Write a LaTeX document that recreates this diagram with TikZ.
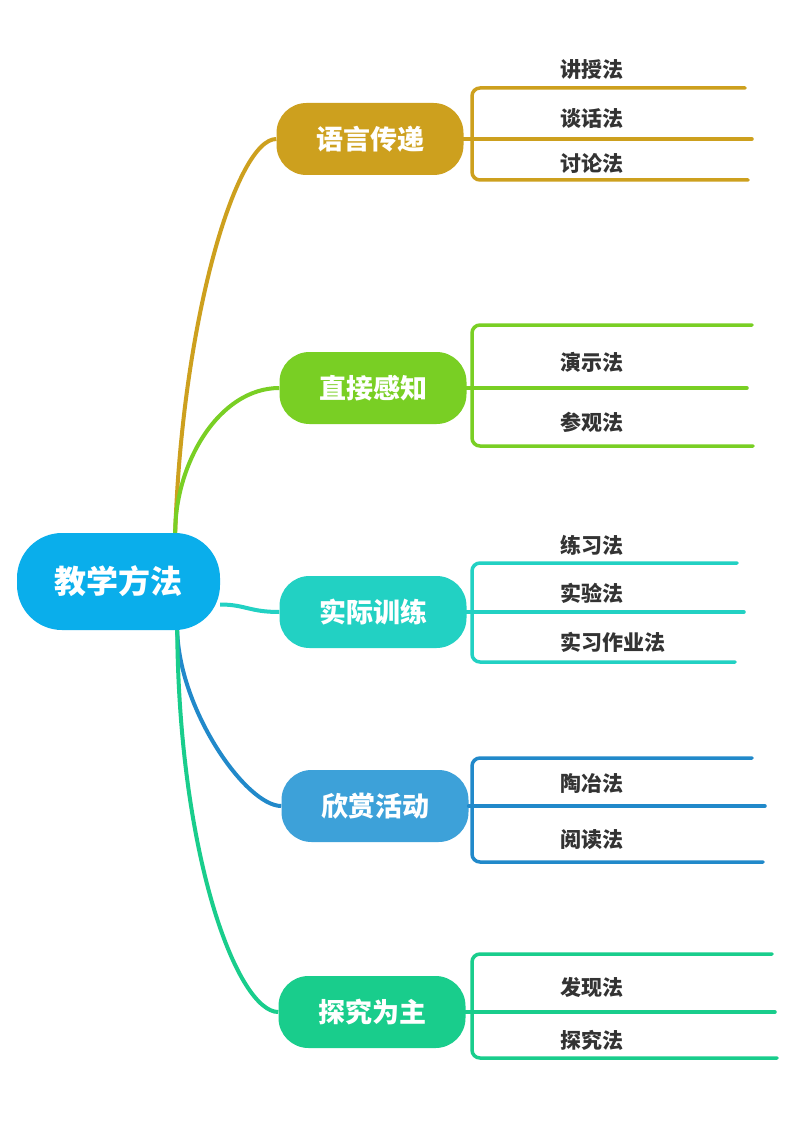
\documentclass[tikz,border=0pt]{standalone}
\usepackage{fontspec}
\setmainfont{Noto Sans CJK SC}

\definecolor{rootblue}{HTML}{0AAEEB}
\definecolor{col1}{HTML}{CDA01E}
\definecolor{col2}{HTML}{79CF24}
\definecolor{col3}{HTML}{22D1C3}
\definecolor{col4}{HTML}{2189CA}
\definecolor{box4}{HTML}{3DA1D9}
\definecolor{col5}{HTML}{19CD8C}
\definecolor{leafgray}{HTML}{333333}

\tikzset{
    rootbox/.style={fill=rootblue, text=white, rounded corners=45pt,
        minimum width=203pt, minimum height=97pt,
        font=\bfseries\fontsize{32}{36}\selectfont},
    topicbox/.style={text=white, rounded corners=30pt,
        minimum width=187pt, minimum height=72pt,
        font=\bfseries\fontsize{27}{30}\selectfont},
    leaf/.style={anchor=west, inner sep=0pt, text=leafgray,
        font=\bfseries\fontsize{21}{24}\selectfont},
    branch/.style={line width=4pt},
    leafline/.style={line width=3.5pt, rounded corners=8pt, line cap=round},
}

\begin{document}
\begin{tikzpicture}[x=1pt,y=-1pt]
    % Canvas
    \fill[white] (0,0) rectangle (800,1131);
    \useasboundingbox (0,0) rectangle (800,1131);

    % Root
    \node[rootbox] (root) at (118.5,581.5) {教学方法};

    % Main topics
    \node[topicbox,fill=col1] (b1) at (370,139) {语言传递};
    \node[topicbox,fill=col2] (b2) at (373,388) {直接感知};
    \node[topicbox,fill=col3] (b3) at (373,612) {实际训练};
    \node[topicbox,fill=box4] (b4) at (375,806) {欣赏活动};
    \node[topicbox,fill=col5] (b5) at (372,1012) {探究为主};

    % Curves from the root
    \coordinate (rt) at ([xshift=-45pt]root.north east);
    \coordinate (rb) at ([xshift=-43pt]root.south east);
    \coordinate (rr) at ([yshift=-23pt]root.east);
    \draw[branch,col1] (rt) .. controls +(7,-213) and +(-40,0) .. (b1.west);
    \draw[branch,col2] (rt) .. controls +(0,-70) and +(-60,0) .. (b2.west);
    \draw[branch,col3] (rr) .. controls +(25,0) and +(-30,0) .. (b3.west);
    \draw[branch,col4] (rb) .. controls +(2,80) and +(-35,0) .. (b4.west);
    \draw[branch,col5] (rb) .. controls +(2,230) and +(-40,0) .. (b5.west);

    % Brackets and underlines of the sub topics
    \foreach \n/\ya/\xa/\yb/\xb/\xm in {1/88/745/180/748/752, 2/325/752/446/753/747,
        3/563/737/662/735/744, 4/758/752/862/763/765, 5/954/772/1058/777/775}{
        \coordinate (top\n) at (\xa,\ya);
        \coordinate (bot\n) at (\xb,\yb);
        \coordinate (mid\n) at (\xm,0);
        \draw[leafline,color=col\n] (top\n) -- (472,\ya) -- (472,\yb) -- (bot\n);
        \draw[leafline,color=col\n] (b\n.east) -- (b\n.east -| mid\n);
    }

    % Sub topics
    \node[leaf] (l11) at (560,70) {讲授法};
    \node[leaf] (l12) at (560,119) {谈话法};
    \node[leaf] (l13) at (560,163) {讨论法};

    \node[leaf] (l21) at (560,362) {演示法};
    \node[leaf] (l22) at (560,422) {参观法};

    \node[leaf] (l31) at (560,545) {练习法};
    \node[leaf] (l32) at (560,593) {实验法};
    \node[leaf] (l33) at (560,642) {实习作业法};

    \node[leaf] (l41) at (560,784) {陶冶法};
    \node[leaf] (l42) at (560,840) {阅读法};

    \node[leaf] (l51) at (560,987) {发现法};
    \node[leaf] (l52) at (560,1040) {探究法};
\end{tikzpicture}
\end{document}
